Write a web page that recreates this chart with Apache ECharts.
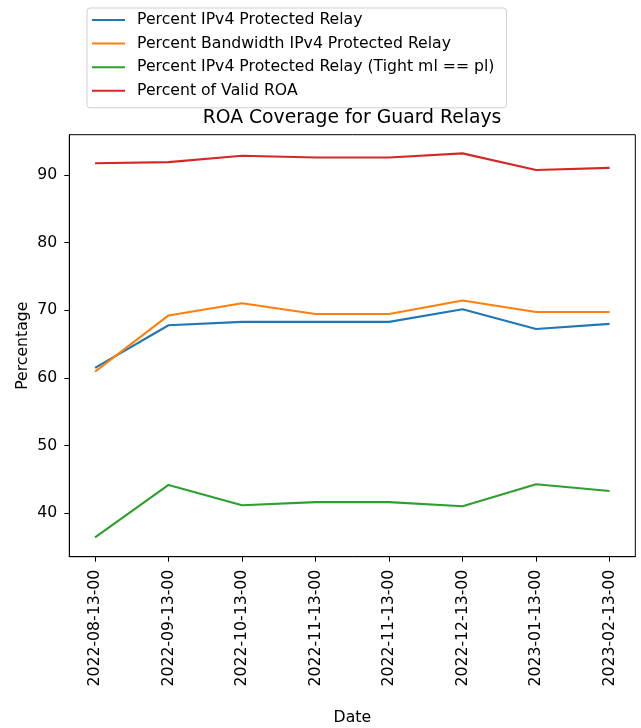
<!DOCTYPE html>
<html>
<head>
<meta charset="utf-8">
<script src="https://cdn.jsdelivr.net/npm/echarts@6/dist/echarts.min.js"></script>
<style>
  html, body { margin: 0; padding: 0; background: #fff; }
  #chart { width: 641px; height: 728px; }
</style>
</head>
<body>
<div id="chart"></div>
<script>
// Snapshot dates (two snapshots share the same label)
const dateLabels = [
  '2022-08-13-00', '2022-09-13-00', '2022-10-13-00', '2022-11-13-00',
  '2022-11-13-00', '2022-12-13-00', '2023-01-13-00', '2023-02-13-00'
];

// Coverage percentages per snapshot
const pctIPv4Protected = [61.5, 67.8, 68.3, 68.3, 68.3, 70.15, 67.25, 68.0];
const pctBandwidthProtected = [60.95, 69.25, 71.05, 69.45, 69.45, 71.45, 69.75, 69.75];
const pctTightProtected = [36.45, 44.2, 41.2, 41.65, 41.65, 41.05, 44.3, 43.3];
const pctValidROA = [91.75, 91.9, 92.85, 92.6, 92.6, 93.2, 90.75, 91.05];

const seriesNames = [
  'Percent IPv4 Protected Relay',
  'Percent Bandwidth IPv4 Protected Relay',
  'Percent IPv4 Protected Relay (Tight ml == pl)',
  'Percent of Valid ROA'
];
const seriesColors = ['#1f77b4', '#ff7f0e', '#2ca02c', '#d62728'];
const seriesValues = [pctIPv4Protected, pctBandwidthProtected, pctTightProtected, pctValidROA];

const yTicks = [40, 50, 60, 70, 80, 90];
const xTicks = dateLabels.map((_, i) => i);

const FONT = 'DejaVu Sans';
const FS = 15.7;
const chart = echarts.init(document.getElementById('chart'), null, { renderer: 'canvas' });

chart.setOption({
  animation: false,
  backgroundColor: '#ffffff',
  title: {
    text: 'ROA Coverage for Guard Relays',
    left: 352,
    top: 109,
    padding: 0,
    textAlign: 'center',
    textStyle: { fontFamily: FONT, fontSize: 18.8, fontWeight: 'normal', color: '#000' }
  },
  legend: {
    orient: 'vertical',
    left: 87,
    top: 8,
    padding: [3, 12, 8, 5],
    itemGap: 5.6,
    itemWidth: 33,
    itemHeight: 2,
    icon: 'rect',
    borderColor: '#d0d0d0',
    borderWidth: 1,
    borderRadius: 3,
    backgroundColor: 'rgba(255,255,255,0.8)',
    textStyle: { fontFamily: FONT, fontSize: FS, color: '#000', lineHeight: 18, padding: [0, 0, 0, 7] },
    data: seriesNames
  },
  grid: {
    left: 69.3,
    top: 134.7,
    right: 5.7,
    bottom: 171.3,
    outerBoundsMode: 'none',
    containLabel: false,
    show: true,
    borderColor: '#000',
    borderWidth: 1,
    backgroundColor: 'transparent'
  },
  xAxis: {
    type: 'value',
    min: -0.35,
    max: 7.35,
    name: 'Date',
    nameLocation: 'middle',
    nameGap: 153,
    nameMoveOverlap: false,
    nameTextStyle: { fontFamily: FONT, fontSize: FS, color: '#000' },
    axisLine: { show: true, onZero: false, lineStyle: { color: '#000', width: 1 } },
    axisTick: { show: true, length: 5, lineStyle: { color: '#000', width: 1 }, customValues: xTicks },
    axisLabel: {
      customValues: xTicks,
      rotate: 90,
      margin: 13,
      fontFamily: FONT,
      fontSize: FS,
      color: '#000',
      formatter: v => dateLabels[Math.round(v)]
    },
    splitLine: { show: false }
  },
  yAxis: {
    type: 'value',
    min: 33.59,
    max: 95.96,
    name: 'Percentage',
    nameLocation: 'middle',
    nameRotate: 90,
    nameGap: 38,
    nameMoveOverlap: false,
    nameTextStyle: { fontFamily: FONT, fontSize: FS, color: '#000' },
    axisLine: { show: true, onZero: false, lineStyle: { color: '#000', width: 1 } },
    axisTick: { show: true, length: 5, lineStyle: { color: '#000', width: 1 }, customValues: yTicks },
    axisLabel: {
      customValues: yTicks,
      margin: 12,
      fontFamily: FONT,
      fontSize: FS,
      color: '#000'
    },
    splitLine: { show: false }
  },
  series: seriesNames.map((name, k) => ({
    name: name,
    type: 'line',
    data: seriesValues[k].map((v, i) => [i, v]),
    showSymbol: false,
    symbol: 'none',
    color: seriesColors[k],
    lineStyle: { width: 2.1, color: seriesColors[k] },
    z: 2 + k
  }))
});
</script>
</body>
</html>
